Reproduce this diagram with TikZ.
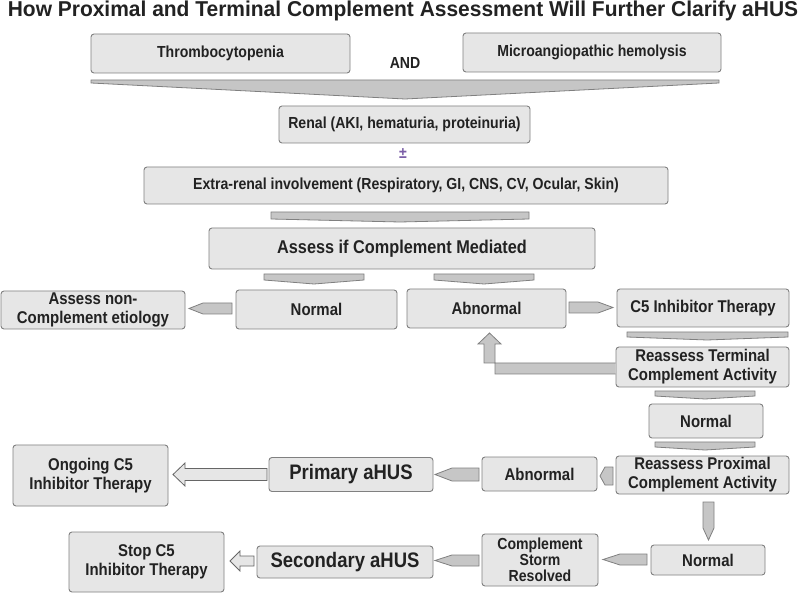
\documentclass[tikz,border=0pt]{standalone}
\usepackage{fontspec}
\setmainfont{Liberation Sans}[FakeStretch=0.88]
\newfontfamily\titlefont{Liberation Sans}[FakeStretch=0.975]
\usetikzlibrary{calc}
\definecolor{boxfill}{HTML}{E6E6E6}
\definecolor{boxline}{HTML}{808080}
\definecolor{arrfill}{HTML}{C6C6C6}
\definecolor{txt}{HTML}{222222}
\definecolor{pmcol}{HTML}{7B5EA7}
\tikzset{
  x=1pt, y=-1pt,
  box/.style={draw=boxline, fill=boxfill, rounded corners=3pt, line width=0.9pt, inner sep=0pt, align=center, text=txt, font=\bfseries\fontsize{17}{19}\selectfont},
  small/.style={font=\bfseries\fontsize{16}{16}\selectfont},
  big/.style={font=\bfseries\fontsize{21}{23}\selectfont},
  blk/.style={draw=boxline, fill=arrfill, line width=0.8pt, line join=miter},
  openarr/.style={draw=boxline!80!black, fill=boxfill, line width=0.8pt, line join=miter},
}
\begin{document}
\begin{tikzpicture}
\useasboundingbox (0,0) rectangle (798,593);
\fill[white] (0,0) rectangle (798,593);
% title
\node[text=txt, font=\titlefont\bfseries\fontsize{21.5}{23}\selectfont, inner sep=0pt, anchor=base] (title) at (403,16.5) {How Proximal and Terminal Complement Assessment Will Further Clarify aHUS};
% top row
\node[box, small, minimum width=259, minimum height=39] (thr) at (220.5,53.5) {Thrombocytopenia};
\node[box, small, minimum width=258, minimum height=39] (mic) at (592,52.5) {Microangiopathic hemolysis};
\node[text=txt, small, inner sep=0pt] (and) at (405,63) {AND};
% big chevron
\draw[blk] (91,80) -- (719,80) -- (719,83) -- (405,99) -- (91,83) -- cycle;
\node[box, small, minimum width=251, minimum height=37] (renal) at (404.5,124.5) {Renal (AKI, hematuria, proteinuria)};
\node[text=pmcol, small, inner sep=0pt] (pm) at (403,154) {±};
\node[box, small, minimum width=524, minimum height=37] (extra) at (406,185.5) {Extra-renal involvement (Respiratory, GI, CNS, CV, Ocular, Skin)};
\draw[blk] (271,212) -- (529,212) -- (529,219) -- (400,222) -- (271,219) -- cycle;
\node[box, font=\bfseries\fontsize{18.5}{20}\selectfont, minimum width=386, minimum height=41] (assess) at (402,248.5) {Assess if Complement Mediated};
\draw[blk] (264,274) -- (364,274) -- (364,280) -- (314,284) -- (264,280) -- cycle;
\draw[blk] (434,274) -- (534,274) -- (534,280) -- (484,284) -- (434,280) -- cycle;
% second level
\node[box, minimum width=161, minimum height=39] (norm1) at (316.5,309.5) {Normal};
\node[box, minimum width=159, minimum height=39] (abn1) at (486.5,308.5) {Abnormal};
\node[box, minimum width=184, minimum height=38] (nonc) at (93,310) {Assess non-\\Complement etiology};
\node[box, minimum width=172, minimum height=38] (c5) at (703,308) {C5 Inhibitor Therapy};
\draw[blk] (232,303) -- (203,303) -- (189,308.5) -- (203,314) -- (232,314) -- cycle;
\draw[blk] (569,302) -- (598,302) -- (613,307.5) -- (598,313) -- (569,313) -- cycle;
\draw[blk] (627,332) -- (788,332) -- (788,337) -- (707,340) -- (627,337) -- cycle;
\node[box, minimum width=173, minimum height=40] (rterm) at (702.5,367) {Reassess Terminal\\Complement Activity};
% L-shaped feedback arrow
\draw[blk] (rterm.west |- 0,374) -- (495,374) -- (495,344) -- (501,344) -- (489.5,333) -- (478,344) -- (484,344) -- (484,363) -- (rterm.west |- 0,363);
\draw[blk] (655,391) -- (755,391) -- (755,396) -- (705,399) -- (655,396) -- cycle;
\node[box, minimum width=114, minimum height=34] (norm2) at (706,421) {Normal};
\draw[blk] (655,442) -- (755,442) -- (755,447) -- (705,450) -- (655,447) -- cycle;
\node[box, minimum width=173, minimum height=38] (rprox) at (702.5,475) {Reassess Proximal\\Complement Activity};
\node[box, minimum width=115, minimum height=34] (abn2) at (539.5,474) {Abnormal};
\node[box, big, minimum width=164, minimum height=34] (prim) at (351,474.5) {Primary aHUS};
\node[box, minimum width=155, minimum height=61] (ongo) at (90.5,475.5) {Ongoing C5\\Inhibitor Therapy};
\draw[blk] (613,467) -- (605,467) -- (600,476) -- (605,485) -- (613,485) -- cycle;
\draw[blk] (479,468) -- (452,468) -- (435,474.5) -- (452,481) -- (479,481) -- cycle;
\draw[openarr] (267,468.5) -- (185,468.5) -- (185,463) -- (173,474.5) -- (185,486) -- (185,480.5) -- (267,480.5) -- cycle;
\draw[blk] (703,502) -- (714,502) -- (714,528) -- (708.5,540) -- (703,528) -- cycle;
\node[box, minimum width=114, minimum height=30] (norm3) at (708,560) {Normal};
\node[box, small, minimum width=116, minimum height=52] (storm) at (540,560) {Complement\\Storm\\Resolved};
\node[box, big, minimum width=176, minimum height=32] (sec) at (345,562) {Secondary aHUS};
\node[box, minimum width=155, minimum height=60] (stop) at (146.5,562) {Stop C5\\Inhibitor Therapy};
\draw[blk] (647,554) -- (620,554) -- (603,559.5) -- (620,565) -- (647,565) -- cycle;
\draw[blk] (479,555) -- (452,555) -- (435,560.5) -- (452,566) -- (479,566) -- cycle;
\draw[openarr] (254,556) -- (240,556) -- (240,551) -- (230,561) -- (240,571) -- (240,566) -- (254,566) -- cycle;
\end{tikzpicture}
\end{document}
